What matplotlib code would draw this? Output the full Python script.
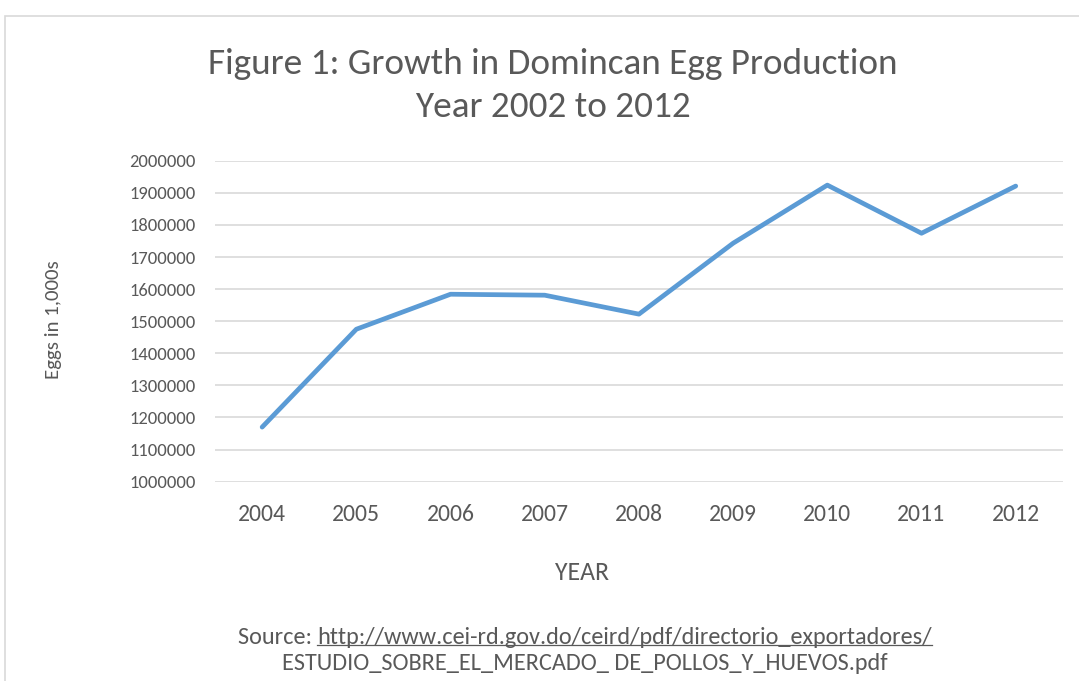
import matplotlib
matplotlib.use("Agg")
import matplotlib.pyplot as plt
from matplotlib.patches import Rectangle

years = ["2004", "2005", "2006", "2007", "2008", "2009", "2010", "2011", "2012"]
eggs = [1170000, 1475000, 1584000, 1581000, 1522000, 1743000, 1924000, 1774000, 1921000]
yticks = list(range(1000000, 2000001, 100000))

plt.rcParams['font.family'] = ['Carlito', 'Liberation Sans Narrow', 'Open Sans', 'DejaVu Sans']
gray = '#595959'

fig = plt.figure(figsize=(10.79, 6.81), dpi=100)
ax = fig.add_axes([0.1993, 0.2927, 0.7857, 0.4713])

# light frame around the chart area, cropped on the right and bottom
fig.patches.append(Rectangle((5 / 1079, -0.05), 1.1, (681 - 16) / 681 + 0.05,
                             transform=fig.transFigure, fill=False,
                             edgecolor='#D9D9D9', linewidth=1.2))

x = range(len(years))
ax.plot(x, eggs, color='#5B9BD5', linewidth=3.4, solid_capstyle='round', zorder=3)

ax.set_xlim(-0.5, len(years) - 0.5)
ax.set_ylim(1000000, 2000000)
ax.set_xticks(list(x))
ax.set_xticklabels(years)
ax.set_yticks(yticks)
ax.set_yticklabels([str(v) for v in yticks])
ax.grid(axis='y', color='#D9D9D9', linewidth=1.2)
ax.set_axisbelow(True)
for s in ax.spines.values():
    s.set_visible(False)
ax.tick_params(length=0, colors=gray)
ax.tick_params(axis='x', pad=16, labelsize=17)
ax.tick_params(axis='y', pad=14, labelsize=13.3)

fig.text(0.512, 0.906, "Figure 1: Growth in Domincan Egg Production", ha='center', va='center',
         fontsize=26.8, color=gray)
fig.text(0.512, 0.843, "Year 2002 to 2012", ha='center', va='center', fontsize=26.8, color=gray)
fig.text(0.0496, 0.53, "Eggs in 1,000s", rotation=90, ha='center', va='center', fontsize=15, color=gray)
fig.text(0.539, 0.1586, "YEAR", ha='center', va='center', fontsize=18.5, color=gray)

src = "Source: "
url = "http://www.cei-rd.gov.do/ceird/pdf/directorio_exportadores/"
fs = 17.5
t_full = fig.text(0.542, 0.0646, src + url, ha='center', va='center', fontsize=fs, color=gray, alpha=0)
fig.text(0.542, 0.025, "ESTUDIO_SOBRE_EL_MERCADO_ DE_POLLOS_Y_HUEVOS.pdf", ha='center', va='center',
         fontsize=fs, color=gray)

# draw the source line in two parts so the link can be underlined
fig.canvas.draw()
r = fig.canvas.get_renderer()
bb = t_full.get_window_extent(r)
t_src = fig.text(bb.x0 / 1079, 0.0646, src, ha='left', va='center', fontsize=fs, color=gray)
bs = t_src.get_window_extent(r)
t_url = fig.text(bs.x1 / 1079, 0.0646, url, ha='left', va='center', fontsize=fs, color=gray)
bu = t_url.get_window_extent(r)
uy = (bu.y0 + 3) / 681
fig.add_artist(plt.Line2D([bu.x0 / 1079, bu.x1 / 1079], [uy, uy], transform=fig.transFigure,
                          color=gray, linewidth=0.9))

fig.savefig("out.png", dpi=100)
